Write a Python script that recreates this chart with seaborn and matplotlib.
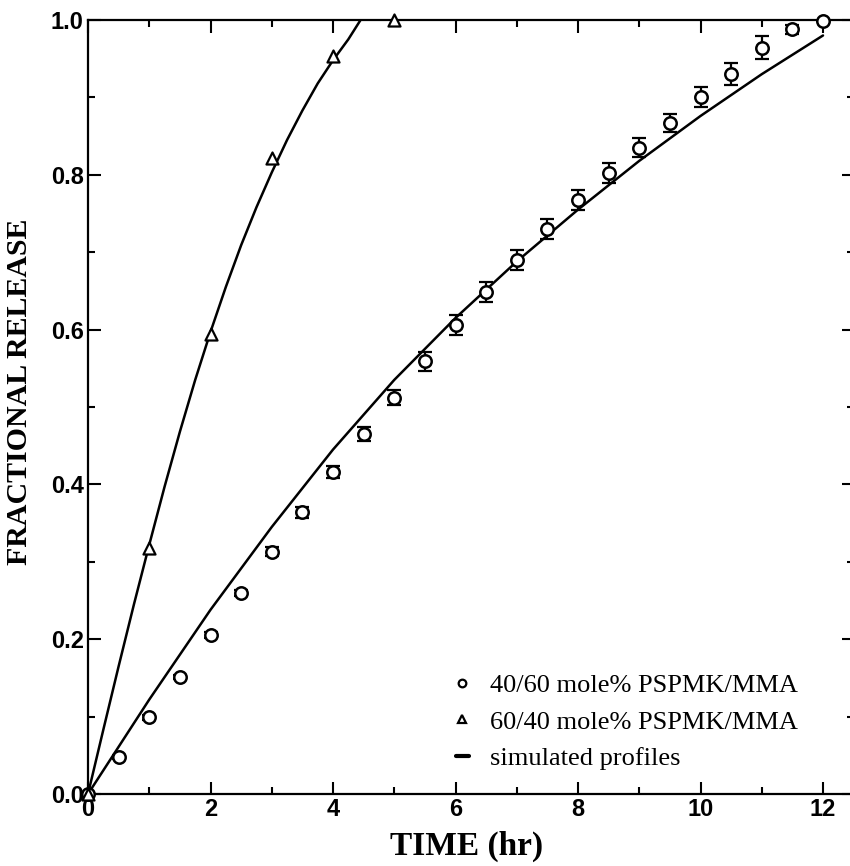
import numpy as np
import pandas as pd
import matplotlib
matplotlib.use("Agg")
import matplotlib.pyplot as plt
import seaborn as sns
from matplotlib.lines import Line2D
from matplotlib.ticker import MultipleLocator

# ---- data ----
t_circ = [0, 0.5, 1, 1.5, 2, 2.5, 3, 3.5, 4, 4.5, 5, 5.5, 6, 6.5, 7, 7.5, 8, 8.5,
          9, 9.5, 10, 10.5, 11, 11.5, 12]
y_circ = [0.0, 0.048, 0.099, 0.151, 0.205, 0.260, 0.313, 0.364, 0.416, 0.465, 0.512,
          0.559, 0.606, 0.649, 0.690, 0.730, 0.767, 0.802, 0.835, 0.867, 0.900,
          0.930, 0.964, 0.988, 0.999]
err_circ = [0.0, 0.003, 0.003, 0.003, 0.004, 0.004, 0.006, 0.007, 0.008, 0.009, 0.010,
            0.012, 0.013, 0.013, 0.013, 0.013, 0.013, 0.013, 0.012, 0.012, 0.013,
            0.014, 0.015, 0.006, 0.0]

t_tri = [0, 1, 2, 3, 4, 5]
y_tri = [0.0, 0.318, 0.594, 0.822, 0.954, 1.0]

t_sim_fast = [0, 0.25, 0.5, 0.75, 1.0, 1.25, 1.5, 1.75, 2.0, 2.25, 2.5, 2.75, 3.0,
              3.25, 3.5, 3.75, 4.0, 4.25, 4.45]
y_sim_fast = [0.0, 0.083, 0.165, 0.245, 0.322, 0.397, 0.468, 0.535, 0.597, 0.655,
              0.709, 0.758, 0.803, 0.845, 0.883, 0.918, 0.948, 0.975, 1.0]

t_sim_slow = [0, 1, 2, 3, 4, 5, 6, 7, 8, 9, 10, 11, 12]
y_sim_slow = [0.0, 0.122, 0.238, 0.345, 0.445, 0.535, 0.615, 0.688, 0.755, 0.818,
              0.876, 0.930, 0.980]

labels = ["40/60 mole% PSPMK/MMA", "60/40 mole% PSPMK/MMA", "simulated profiles"]
x_ticks = [0, 2, 4, 6, 8, 10, 12]
y_ticks = [0.0, 0.2, 0.4, 0.6, 0.8, 1.0]

# ---- plot ----
sns.set_style("ticks")
plt.rcParams["font.family"] = ["Liberation Sans", "DejaVu Sans"]
plt.rcParams.update({"text.color": "black", "axes.labelcolor": "black",
                     "xtick.color": "black", "ytick.color": "black",
                     "axes.edgecolor": "black"})

fig = plt.figure(figsize=(8.5, 8.66), dpi=100)
ax = fig.add_axes([88 / 850, 72 / 866, (854 - 88) / 850, (794 - 20) / 866])

sns.lineplot(x=t_sim_fast, y=y_sim_fast, ax=ax, color="black", lw=1.8, sort=False,
             estimator=None)
sns.lineplot(x=t_sim_slow, y=y_sim_slow, ax=ax, color="black", lw=1.8, sort=False,
             estimator=None)

ax.errorbar(t_circ, y_circ, yerr=err_circ, fmt="none", ecolor="black",
            elinewidth=1.6, capsize=5, capthick=1.6, zorder=3)
sns.scatterplot(x=t_circ, y=y_circ, ax=ax, marker="o", s=80, facecolor="white",
                edgecolor="black", linewidth=1.8, zorder=4, clip_on=False)
sns.scatterplot(x=t_tri, y=y_tri, ax=ax, marker="^", s=75, facecolor="white",
                edgecolor="black", linewidth=1.6, zorder=4, clip_on=False)

ax.set_xlim(0, (854 - 88) / 61.25)
ax.set_ylim(0, 1.0)
ax.set_xticks(x_ticks)
ax.set_yticks(y_ticks)
ax.set_xticklabels([str(v) for v in x_ticks])
ax.set_yticklabels([f"{v:.1f}" for v in y_ticks])
ax.xaxis.set_minor_locator(MultipleLocator(1))
ax.yaxis.set_minor_locator(MultipleLocator(0.1))
ax.tick_params(which="both", direction="in", top=True, right=True, color="black",
               labelcolor="black", width=1.5)
ax.tick_params(which="major", length=9, labelsize=17, pad=3)
ax.tick_params(which="minor", length=5)
for lab in ax.get_xticklabels() + ax.get_yticklabels():
    lab.set_fontweight("bold")
for sp in ax.spines.values():
    sp.set_linewidth(1.6)
    sp.set_color("black")

ax.set_xlabel("TIME (hr)", fontfamily="Liberation Serif", fontweight="bold",
              fontsize=24, color="black")
ax.xaxis.set_label_coords(0.5 - 4 / 766, (794 - 831) / 774)
ax.set_ylabel("FRACTIONAL RELEASE", fontfamily="Liberation Serif", fontweight="bold",
              fontsize=21.5, color="black")
ax.yaxis.set_label_coords((33 - 88) / 766, (794 - 392) / 774)

handles = [
    Line2D([], [], marker="o", ls="none", mfc="white", mec="black", mew=1.6, ms=5.5),
    Line2D([], [], marker="^", ls="none", mfc="white", mec="black", mew=1.6, ms=5.5),
    Line2D([], [], color="black", lw=3),
]
leg = ax.legend(handles, labels, loc="lower left", bbox_to_anchor=(0.449, 0.0),
                frameon=False, handlelength=0.5, handletextpad=0.8,
                labelspacing=0.5, prop={"family": "Liberation Serif", "size": 19})
for txt in leg.get_texts():
    txt.set_color("black")

fig.savefig("out.png", dpi=100)
